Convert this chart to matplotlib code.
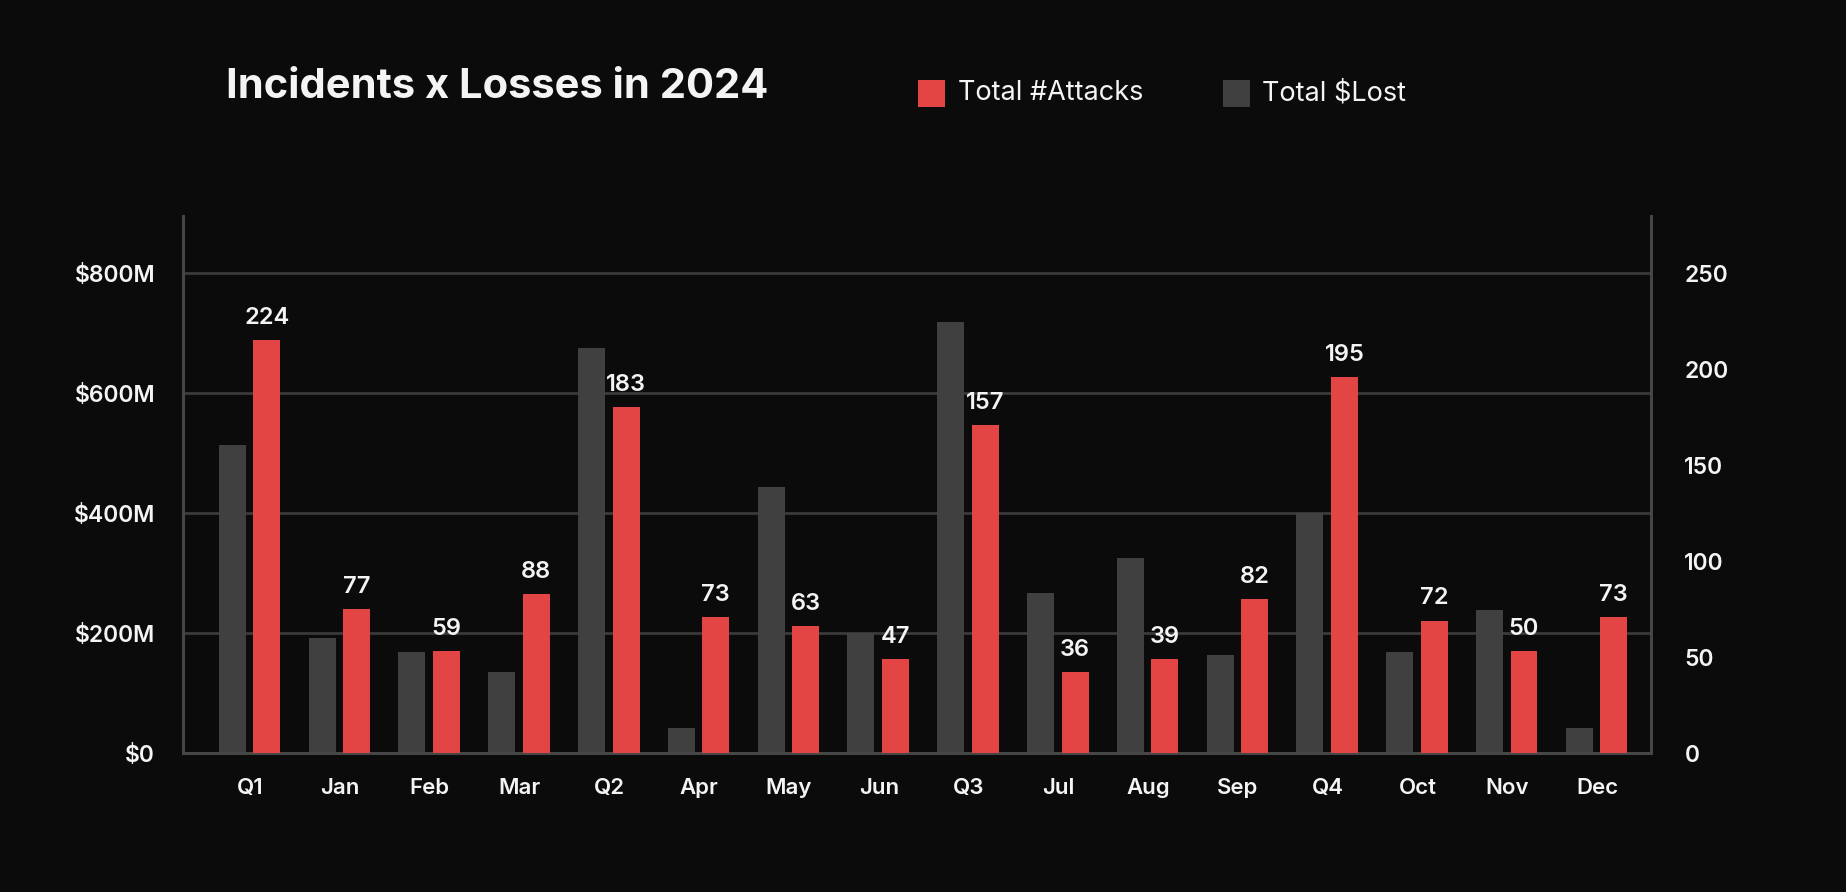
import matplotlib

matplotlib.use("Agg")
import matplotlib.pyplot as plt
import numpy as np
from matplotlib.patches import Rectangle

# data
categories = ["Q1", "Jan", "Feb", "Mar", "Q2", "Apr", "May", "Jun",
              "Q3", "Jul", "Aug", "Sep", "Q4", "Oct", "Nov", "Dec"]
lost_musd = [513, 192, 168, 135, 675, 42, 444, 200,
             719, 267, 325, 163, 400, 168, 238, 42]
attacks = [215, 75, 53, 83, 180, 71, 66, 49,
           171, 42, 49, 80, 196, 69, 53, 71]
attack_labels = ["224", "77", "59", "88", "183", "73", "63", "47",
                 "157", "36", "39", "82", "195", "72", "50", "73"]
left_ticks = [0, 200, 400, 600, 800]
right_ticks = [0, 50, 100, 150, 200, 250]

BG = "#0b0b0b"
RED = "#e34545"
GREY = "#404040"
GRID = "#3a3a3a"
TXT = "#f4f4f4"

plt.rcParams["font.family"] = ["Inter", "DejaVu Sans"]

fig = plt.figure(figsize=(18.46, 8.92), dpi=100, facecolor=BG)
ax = fig.add_axes([0.0991, 0.1558, 0.7953, 0.6020])
ax.set_facecolor("none")
ax2 = ax.twinx()

x = np.arange(len(categories))
ax.bar(x - 0.2, lost_musd, width=0.3, color=GREY, zorder=3)
ax2.bar(x + 0.185, attacks, width=0.3, color=RED, zorder=3)

for xi, val, lab in zip(x, attacks, attack_labels):
    ax2.annotate(lab, (xi + 0.185, val), xytext=(0, 8), textcoords="offset points",
                 ha="center", va="bottom", color=TXT, fontsize=17, fontweight="semibold")

ax.set_xlim(-0.75, 15.6)
ax.set_ylim(0, 895)
ax2.set_ylim(0, 895 / 3.2)

ax.set_yticks(left_ticks)
ax.set_yticklabels(["$%dM" % v if v else "$0" for v in left_ticks])
ax2.set_yticks(right_ticks)
ax.set_xticks(x)
ax.set_xticklabels(categories)

ax.grid(axis="y", color=GRID, linewidth=2, zorder=0)
ax.set_axisbelow(True)

for a in (ax, ax2):
    a.spines["top"].set_visible(False)
    for side in ("left", "right", "bottom"):
        a.spines[side].set_color("#474747")
        a.spines[side].set_linewidth(2)
    a.tick_params(length=0, colors=TXT)

ax.tick_params(axis="y", labelsize=16.5, pad=20)
ax.tick_params(axis="x", labelsize=16, pad=18)
ax2.tick_params(axis="y", labelsize=16.5, pad=24)
for t in ax.get_xticklabels() + ax.get_yticklabels() + ax2.get_yticklabels():
    t.set_fontweight("semibold")
for t in ax2.get_yticklabels():
    t.set_horizontalalignment("left")

fig.text(0.1225, 0.902, "Incidents x Losses in 2024", color=TXT, fontsize=30,
         fontweight="bold", ha="left", va="center")

# legend drawn by hand to sit beside the title
legend_items = [("Total #Attacks", RED, 0.4973), ("Total $Lost", GREY, 0.6625)]
for label, color, lx in legend_items:
    fig.patches.append(Rectangle((lx, 0.8800), 0.0146, 0.0303, transform=fig.transFigure,
                                 facecolor=color, edgecolor="none"))
    fig.text(lx + 0.0214, 0.8955, label, color=TXT, fontsize=19.5, ha="left", va="center")

fig.savefig("out.png", dpi=100, facecolor=BG)
